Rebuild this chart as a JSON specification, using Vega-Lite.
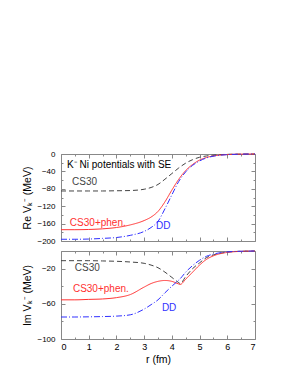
{
  "$schema": "https://vega.github.io/schema/vega-lite/v6.json",
  "padding": {"left": 22, "top": 149, "right": 5, "bottom": 5},
  "spacing": 2,
  "config": {
    "view": {"stroke": "#888888", "strokeWidth": 1},
    "font": "Liberation Sans",
    "axis": {
      "grid": false, "domain": false, "tickColor": "#888888", "tickSize": -4,
      "labelFontSize": 8, "labelColor": "#000000", "labelPadding": 10,
      "titleFontSize": 10.5, "titleFontWeight": "normal", "titleColor": "#000000"
    }
  },
  "datasets": {
    "re": [
      {"r": 0, "CS30": -85, "phen": -174, "DD": -196},
      {"r": 0.5, "CS30": -85, "phen": -174, "DD": -196},
      {"r": 1, "CS30": -85, "phen": -173.5, "DD": -195.5},
      {"r": 1.5, "CS30": -85, "phen": -172, "DD": -194},
      {"r": 2, "CS30": -84.5, "phen": -169, "DD": -192},
      {"r": 2.5, "CS30": -84, "phen": -163, "DD": -187},
      {"r": 3, "CS30": -81, "phen": -153, "DD": -178},
      {"r": 3.25, "CS30": -77, "phen": -145, "DD": -169},
      {"r": 3.5, "CS30": -70, "phen": -132, "DD": -155},
      {"r": 3.75, "CS30": -58, "phen": -110, "DD": -126},
      {"r": 4, "CS30": -45, "phen": -83, "DD": -94},
      {"r": 4.25, "CS30": -32, "phen": -58, "DD": -63},
      {"r": 4.5, "CS30": -21, "phen": -38, "DD": -41},
      {"r": 4.75, "CS30": -13, "phen": -24, "DD": -26},
      {"r": 5, "CS30": -7.5, "phen": -14, "DD": -16},
      {"r": 5.25, "CS30": -4.5, "phen": -8, "DD": -9},
      {"r": 5.5, "CS30": -2.5, "phen": -4.5, "DD": -5},
      {"r": 6, "CS30": -0.8, "phen": -1.3, "DD": -1.5},
      {"r": 6.5, "CS30": -0.2, "phen": -0.3, "DD": -0.4},
      {"r": 7, "CS30": 0, "phen": 0, "DD": 0}
    ],
    "im": [
      {"r": 0, "CS30": -11, "phen": -55.5, "DD": -75},
      {"r": 0.5, "CS30": -11, "phen": -55.5, "DD": -75},
      {"r": 1, "CS30": -11, "phen": -55, "DD": -74.8},
      {"r": 1.5, "CS30": -11.3, "phen": -54.5, "DD": -74.5},
      {"r": 2, "CS30": -11.7, "phen": -53, "DD": -74},
      {"r": 2.5, "CS30": -12.5, "phen": -49.5, "DD": -72.5},
      {"r": 3, "CS30": -14, "phen": -41, "DD": -66},
      {"r": 3.25, "CS30": -16, "phen": -37, "DD": -61},
      {"r": 3.5, "CS30": -19, "phen": -34.5, "DD": -55.5},
      {"r": 3.75, "CS30": -24, "phen": -33.5, "DD": -47.5},
      {"r": 4, "CS30": -30, "phen": -34.5, "DD": -40},
      {"r": 4.25, "CS30": -36, "phen": -37.5, "DD": -33},
      {"r": 4.3, "CS30": -37, "phen": -38, "DD": -31.5},
      {"r": 4.5, "CS30": -29, "phen": -32, "DD": -24},
      {"r": 4.75, "CS30": -20, "phen": -24, "DD": -16.5},
      {"r": 5, "CS30": -13.5, "phen": -16, "DD": -10.5},
      {"r": 5.25, "CS30": -7.5, "phen": -9.5, "DD": -6},
      {"r": 5.5, "CS30": -4.5, "phen": -5.5, "DD": -3.5},
      {"r": 6, "CS30": -1.3, "phen": -1.6, "DD": -1},
      {"r": 6.5, "CS30": -0.3, "phen": -0.4, "DD": -0.3},
      {"r": 7, "CS30": 0, "phen": 0, "DD": 0}
    ],
    "reLab": [
      {"r": 0.22, "v": -24.7, "label": "K\u207B Ni potentials with SE", "series": "title"},
      {"r": 0.4, "v": -65.5, "label": "CS30", "series": "CS30"},
      {"r": 0.32, "v": -158, "label": "CS30+phen.", "series": "phen"},
      {"r": 3.43, "v": -165, "label": "DD", "series": "DD"}
    ],
    "imLab": [
      {"r": 0.5, "v": -19.3, "label": "CS30", "series": "CS30"},
      {"r": 0.43, "v": -43.2, "label": "CS30+phen.", "series": "phen"},
      {"r": 3.64, "v": -64.4, "label": "DD", "series": "DD"}
    ]
  },
  "vconcat": [
    {
      "width": 194, "height": 87,
      "resolve": {"axis": {"x": "independent", "y": "independent"}},
      "layer": [
        {
          "data": {"name": "re"},
          "transform": [{"fold": ["CS30", "phen", "DD"], "as": ["series", "v"]}],
          "mark": {"type": "line", "interpolate": "monotone", "strokeWidth": 1},
          "encoding": {
            "x": {"field": "r", "type": "quantitative", "scale": {"domain": [0, 7]},
                  "axis": {"orient": "bottom", "labels": false, "title": null, "values": [0,1,2,3,4,5,6,7]}},
            "y": {"field": "v", "type": "quantitative", "scale": {"domain": [-200, 0]},
                  "axis": {"orient": "left", "title": "Re V\u2096\u207B (MeV)", "titlePadding": 4, "values": [0,-40,-80,-120,-160,-200], "format": "d"}},
            "color": {"field": "series", "type": "nominal", "legend": null,
                      "scale": {"domain": ["CS30", "phen", "DD", "title"], "range": ["#444444", "#ff3030", "#3030ff", "#000000"]}},
            "strokeDash": {"field": "series", "type": "nominal", "legend": null,
                      "scale": {"domain": ["CS30", "phen", "DD"], "range": [[5, 3], [1, 0], [6, 2, 1, 2]]}}
          }
        },
        {
          "data": {"name": "reLab"},
          "mark": {"type": "text", "align": "left", "baseline": "middle", "fontSize": 10},
          "encoding": {
            "x": {"field": "r", "type": "quantitative", "scale": {"domain": [0, 7]},
                  "axis": {"orient": "top", "labels": false, "title": null, "values": [0,1,2,3,4,5,6,7]}},
            "y": {"field": "v", "type": "quantitative", "scale": {"domain": [-200, 0]},
                  "axis": {"orient": "right", "labels": false, "title": null, "values": [0,-40,-80,-120,-160,-200]}},
            "text": {"field": "label"},
            "color": {"field": "series", "type": "nominal", "legend": null,
                      "scale": {"domain": ["CS30", "phen", "DD", "title"], "range": ["#000000", "#ff2020", "#2020ff", "#000000"]}}
          }
        },
        {
          "data": {"name": "reLab"},
          "mark": {"type": "point", "opacity": 0},
          "encoding": {
            "x": {"field": "r", "type": "quantitative", "scale": {"domain": [0, 7]},
                  "axis": {"orient": "bottom", "labels": false, "title": null, "tickSize": -2, "values": [0.5,1.5,2.5,3.5,4.5,5.5,6.5]}},
            "y": {"field": "v", "type": "quantitative", "scale": {"domain": [-200, 0]},
                  "axis": {"orient": "left", "labels": false, "title": null, "tickSize": -2, "values": [-20,-60,-100,-140,-180]}}
          }
        },
        {
          "data": {"name": "reLab"},
          "mark": {"type": "point", "opacity": 0},
          "encoding": {
            "x": {"field": "r", "type": "quantitative", "scale": {"domain": [0, 7]},
                  "axis": {"orient": "top", "labels": false, "title": null, "tickSize": -2, "values": [0.5,1.5,2.5,3.5,4.5,5.5,6.5]}},
            "y": {"field": "v", "type": "quantitative", "scale": {"domain": [-200, 0]},
                  "axis": {"orient": "right", "labels": false, "title": null, "tickSize": -2, "values": [-20,-60,-100,-140,-180]}}
          }
        }
      ]
    },
    {
      "width": 194, "height": 88,
      "resolve": {"axis": {"x": "independent", "y": "independent"}},
      "layer": [
        {
          "data": {"name": "im"},
          "transform": [{"fold": ["CS30", "phen", "DD"], "as": ["series", "v"]}],
          "mark": {"type": "line", "interpolate": "monotone", "strokeWidth": 1},
          "encoding": {
            "x": {"field": "r", "type": "quantitative", "scale": {"domain": [0, 7]},
                  "axis": {"orient": "bottom", "title": "r (fm)", "values": [0,1,2,3,4,5,6,7], "labelFontSize": 9, "labelPadding": 7, "titlePadding": 3}},
            "y": {"field": "v", "type": "quantitative", "scale": {"domain": [-100, 0]},
                  "axis": {"orient": "left", "title": "Im V\u2096\u207B (MeV)", "titlePadding": 4, "values": [-20,-60,-100], "format": "d"}},
            "color": {"field": "series", "type": "nominal", "legend": null,
                      "scale": {"domain": ["CS30", "phen", "DD"], "range": ["#444444", "#ff3030", "#3030ff"]}},
            "strokeDash": {"field": "series", "type": "nominal", "legend": null,
                      "scale": {"domain": ["CS30", "phen", "DD"], "range": [[5, 3], [1, 0], [6, 2, 1, 2]]}}
          }
        },
        {
          "data": {"name": "imLab"},
          "mark": {"type": "text", "align": "left", "baseline": "middle", "fontSize": 10},
          "encoding": {
            "x": {"field": "r", "type": "quantitative", "scale": {"domain": [0, 7]},
                  "axis": {"orient": "top", "labels": false, "title": null, "values": [0,1,2,3,4,5,6,7]}},
            "y": {"field": "v", "type": "quantitative", "scale": {"domain": [-100, 0]},
                  "axis": {"orient": "right", "labels": false, "title": null, "values": [-20,-60,-100]}},
            "text": {"field": "label"},
            "color": {"field": "series", "type": "nominal", "legend": null,
                      "scale": {"domain": ["CS30", "phen", "DD"], "range": ["#000000", "#ff2020", "#2020ff"]}}
          }
        },
        {
          "data": {"name": "imLab"},
          "mark": {"type": "point", "opacity": 0},
          "encoding": {
            "x": {"field": "r", "type": "quantitative", "scale": {"domain": [0, 7]},
                  "axis": {"orient": "bottom", "labels": false, "title": null, "tickSize": -2, "values": [0.5,1.5,2.5,3.5,4.5,5.5,6.5]}},
            "y": {"field": "v", "type": "quantitative", "scale": {"domain": [-100, 0]},
                  "axis": {"orient": "left", "labels": false, "title": null, "tickSize": -2, "values": [0,-40,-80]}}
          }
        },
        {
          "data": {"name": "imLab"},
          "mark": {"type": "point", "opacity": 0},
          "encoding": {
            "x": {"field": "r", "type": "quantitative", "scale": {"domain": [0, 7]},
                  "axis": {"orient": "top", "labels": false, "title": null, "tickSize": -2, "values": [0.5,1.5,2.5,3.5,4.5,5.5,6.5]}},
            "y": {"field": "v", "type": "quantitative", "scale": {"domain": [-100, 0]},
                  "axis": {"orient": "right", "labels": false, "title": null, "tickSize": -2, "values": [0,-40,-80]}}
          }
        }
      ]
    }
  ]
}
